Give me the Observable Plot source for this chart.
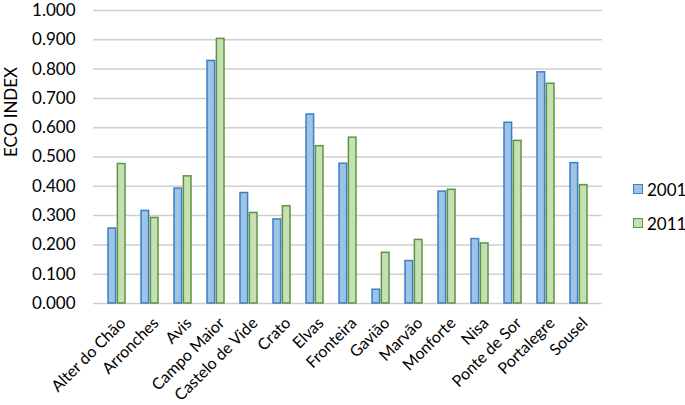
<!DOCTYPE html>
<html><head><meta charset="utf-8">
<script src="https://cdn.jsdelivr.net/npm/d3@7"></script>
<script src="https://cdn.jsdelivr.net/npm/@observablehq/plot@0.6"></script>
<style>
body{margin:0;background:#fff;font-family:Lato,sans-serif;}
#wrap{position:relative;width:685px;height:405px;}
#legend{position:absolute;left:633px;top:179px;font-size:17px;color:#000;}
.item{display:flex;align-items:center;height:20px;margin-bottom:14px;}
.sw{width:8px;height:8px;border:1.5px solid;margin-right:4px;}
</style></head><body><div id="wrap"></div>
<script>
const municipalities = ["Alter do Chão","Arronches","Avis","Campo Maior","Castelo de Vide","Crato","Elvas","Fronteira","Gavião","Marvão","Monforte","Nisa","Ponte de Sor","Portalegre","Sousel"];
const eco2001 = [0.256,0.316,0.392,0.828,0.377,0.287,0.645,0.477,0.047,0.145,0.382,0.220,0.617,0.789,0.479];
const eco2011 = [0.476,0.292,0.434,0.903,0.309,0.332,0.537,0.566,0.173,0.217,0.388,0.205,0.555,0.750,0.404];
const seriesNames = ["2001","2011"];
const yTicks = [0,0.1,0.2,0.3,0.4,0.5,0.6,0.7,0.8,0.9,1.0];
const fills = ["#9dc3e6","#c6e0b4"];
const strokes = ["#3d7fc3","#5e9441"];

const rows2001 = municipalities.map((m,i)=>({m, v: eco2001[i]}));
const rows2011 = municipalities.map((m,i)=>({m, v: eco2011[i]}));

const W = 685, H = 405, ML = 93, MR = 83, MT = 10, MB = 102;
const pIn = 0.47, pOut = 0.235;
const step = (W-ML-MR)/(municipalities.length - pIn + 2*pOut);
const bw = step*(1-pIn);
const half = bw/2 + 0.4;

const chart = Plot.plot({
  width: W, height: H, marginLeft: ML, marginRight: MR, marginTop: MT, marginBottom: MB,
  style: {fontFamily: "Lato, sans-serif", fontSize: "17px", color: "#000", background: "#fff"},
  x: {domain: municipalities, paddingInner: pIn, paddingOuter: pOut},
  y: {domain: [0, 1]},
  marks: [
    Plot.gridY(yTicks, {stroke: "#cfcfcf", strokeOpacity: 1, strokeWidth: 1.5}),
    Plot.barY(rows2001, {x: "m", y: "v", fill: fills[0], stroke: strokes[0], strokeWidth: 1.5, insetRight: half}),
    Plot.barY(rows2011, {x: "m", y: "v", fill: fills[1], stroke: strokes[1], strokeWidth: 1.5, insetLeft: half}),
    Plot.axisY(yTicks, {tickSize: 0, tickPadding: 18, tickFormat: d => d.toFixed(3), label: null, fontSize: 17}),
    Plot.axisX({tickRotate: -45, tickSize: 0, tickPadding: 17, dx: 6, label: null, fontSize: 16}),
    Plot.text(["ECO INDEX"], {frameAnchor: "left", rotate: -90, dx: -82, dy: 0, fontSize: 17})
  ]
});
const wrap = document.getElementById("wrap");
wrap.appendChild(chart);
const lg = document.createElement("div");
lg.id = "legend";
seriesNames.forEach((s,i)=>{
  const it = document.createElement("div"); it.className="item";
  const sw = document.createElement("span"); sw.className="sw";
  sw.style.background = fills[i]; sw.style.borderColor = strokes[i];
  const t = document.createElement("span"); t.textContent = s;
  it.appendChild(sw); it.appendChild(t); lg.appendChild(it);
});
wrap.appendChild(lg);
</script></body></html>
